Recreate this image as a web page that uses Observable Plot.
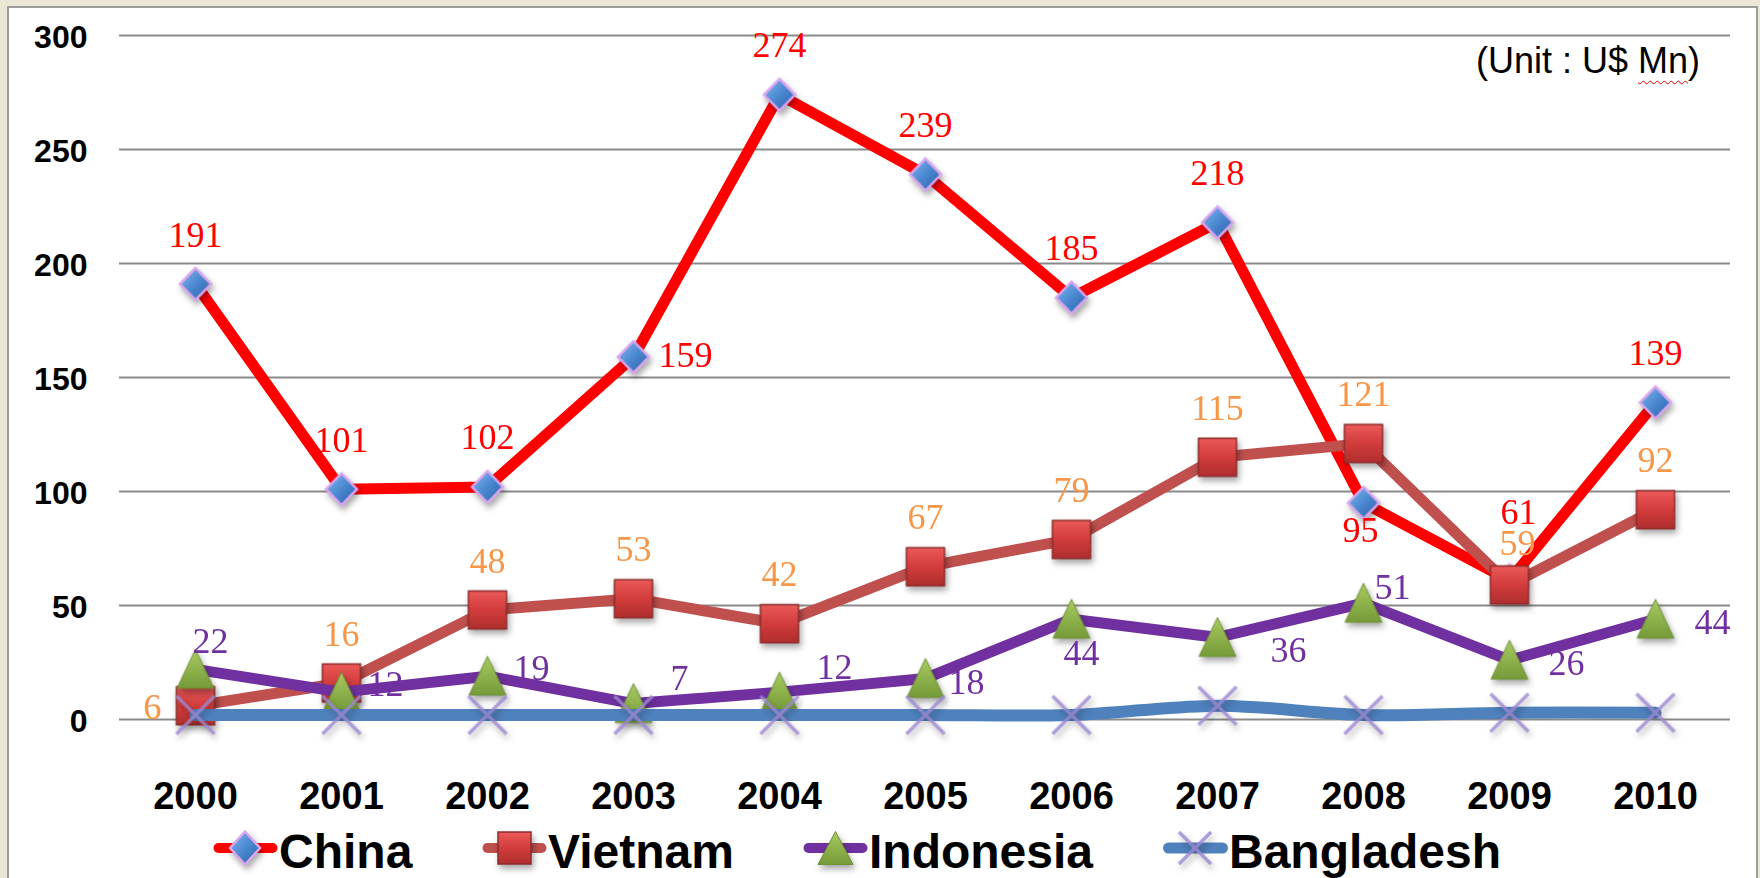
<!DOCTYPE html>
<html><head><meta charset="utf-8">
<script src="https://cdn.jsdelivr.net/npm/d3@7"></script>
<script src="https://cdn.jsdelivr.net/npm/@observablehq/plot@0.6"></script>
<style>
html,body{margin:0;padding:0;}
body{width:1760px;height:878px;position:relative;overflow:hidden;background:#ebe7d7;font-family:"Liberation Sans",Arial,sans-serif;}
#panel{position:absolute;left:7px;top:6px;width:1751px;height:900px;background:#fff;border:2px solid #9c9c9c;box-sizing:border-box;}
#chart{position:absolute;left:0;top:0;}
#legend{position:absolute;left:0;top:820px;width:1760px;height:58px;}
.item{position:absolute;top:0;height:58px;}
.item svg{position:absolute;left:0;top:3px;overflow:visible;}
.item span{position:absolute;top:8px;font:bold 48px/48px "Liberation Sans",Arial,sans-serif;white-space:nowrap;color:#000;}
#unit{position:absolute;right:60px;top:43px;font:36px/36px "Liberation Sans",Arial,sans-serif;color:#000;white-space:nowrap;}
#unit .sp{text-decoration:underline wavy #e00000;text-decoration-thickness:1px;text-underline-offset:7px;}
#chart g[aria-description="markers"], .item .mk{filter:drop-shadow(2px 4px 3px rgba(0,0,0,0.35));}
</style></head>
<body>
<svg width="0" height="0" style="position:absolute">
<defs>
 <linearGradient id="gDiamond" x1="0" y1="0" x2="1" y2="1">
  <stop offset="0" stop-color="#86baf0"/><stop offset="0.5" stop-color="#4a88d0"/><stop offset="1" stop-color="#2a5ea6"/>
 </linearGradient>
 <linearGradient id="gSquare" x1="0" y1="0" x2="0" y2="1">
  <stop offset="0" stop-color="#ec5a5a"/><stop offset="0.5" stop-color="#d23c3c"/><stop offset="1" stop-color="#b02e2e"/>
 </linearGradient>
 <linearGradient id="gTri" x1="0" y1="0" x2="0" y2="1">
  <stop offset="0" stop-color="#a9cb62"/><stop offset="1" stop-color="#759a38"/>
 </linearGradient>
</defs></svg>
<div id="panel"></div>
<div id="chart"></div>
<div id="unit">(Unit : U$ <span class="sp">Mn</span>)</div>
<div id="legend"></div>
<script>
// ---- data ----
const years = ["2000","2001","2002","2003","2004","2005","2006","2007","2008","2009","2010"];
const china = [191,101,102,159,274,239,185,218,95,61,139];
const vietnam = [6,16,48,53,42,67,79,115,121,59,92];
const indonesia = [22,12,19,7,12,18,44,36,51,26,44];
const bangladesh = [2,2,2,2,2,2,2,6,2,3,3];
const yTicks = [0,50,100,150,200,250,300];
const seriesNames = ["China","Vietnam","Indonesia","Bangladesh"];

// label placement keywords (per point)
const chinaLabelAt = ["above","above","above","right","above","above","above","above","below","high","above"];
const vietnamLabelAt = ["left","above","above","above","above","above","above","above","above","low","above"];
const indonesiaLabelAt = ["upLeft","rightUp","rightUp","upRight","upRight","rightDown","belowRight","farRightDown","nearUp","farRight","farRight"];

const placements = {
  above:{textAnchor:"middle",dx:0,dy:-49},
  high:{textAnchor:"middle",dx:9,dy:-68},
  low:{textAnchor:"middle",dx:8,dy:-42},
  below:{textAnchor:"middle",dx:-3,dy:28},
  belowRight:{textAnchor:"middle",dx:10,dy:34},
  right:{textAnchor:"start",dx:25,dy:-2},
  rightUp:{textAnchor:"start",dx:26,dy:-8},
  rightDown:{textAnchor:"start",dx:23,dy:4},
  upRight:{textAnchor:"start",dx:37,dy:-25},
  farRight:{textAnchor:"start",dx:39,dy:3},
  farRightDown:{textAnchor:"start",dx:53,dy:13},
  nearUp:{textAnchor:"start",dx:11,dy:-16},
  upLeft:{textAnchor:"start",dx:-3,dy:-28},
  left:{textAnchor:"end",dx:-34,dy:2}
};

// ---- marker symbols ----
const symDiamond = {draw(c,s){const r=Math.sqrt(s/Math.PI);c.moveTo(0,-r*1.03);c.lineTo(r,0);c.lineTo(0,r*1.03);c.lineTo(-r,0);c.closePath();}};
const symSquare = {draw(c,s){const r=Math.sqrt(s/Math.PI);c.moveTo(-r,-r);c.lineTo(r,-r);c.lineTo(r,r);c.lineTo(-r,r);c.closePath();}};
const symTri = {draw(c,s){const r=Math.sqrt(s/Math.PI);c.moveTo(0,-1.05*r);c.lineTo(0.97*r,1.0*r);c.lineTo(-0.97*r,1.0*r);c.closePath();}};
const symX = {draw(c,s){const r=Math.sqrt(s/Math.PI);c.moveTo(-r,-r);c.lineTo(r,r);c.moveTo(-r,r);c.lineTo(r,-r);}};

const rows = vals => years.map((year,i)=>({year,value:vals[i]}));

const series = [
  {name:"China", rows:rows(china), line:"#ff0000", width:11, labelColor:"#ff0000", labelAt:chinaLabelAt,
   dot:{symbol:symDiamond, r:15.5, fill:"url(#gDiamond)", stroke:"#d9a6ef", strokeWidth:2.5}},
  {name:"Vietnam", rows:rows(vietnam), line:"#c0504d", width:11, labelColor:"#f79646", labelAt:vietnamLabelAt,
   dot:{symbol:symSquare, r:19, fill:"url(#gSquare)", stroke:"#8e2c2c", strokeWidth:1.5}},
  {name:"Indonesia", rows:rows(indonesia), line:"#7030a0", width:11, labelColor:"#7030a0", labelAt:indonesiaLabelAt,
   dot:{symbol:symTri, r:19, fill:"url(#gTri)", stroke:"#6e9134", strokeWidth:1}},
  {name:"Bangladesh", rows:rows(bangladesh), line:"#4f81bd", width:12, labelColor:null, labelAt:null, curve:"catmull-rom",
   dot:{symbol:symX, r:19, fill:"none", stroke:"#9d88d2", strokeWidth:3.5, strokeOpacity:0.8}}
];

const marks = [Plot.ruleY(yTicks,{stroke:"#8a8a8a",strokeWidth:2})];
for (const s of series) {
  marks.push(Plot.line(s.rows,{x:"year",y:"value",stroke:s.line,strokeWidth:s.width,strokeLinecap:"round",strokeLinejoin:"round",curve:s.curve||"linear"}));
  marks.push(Plot.dot(s.rows,{x:"year",y:"value",...s.dot,ariaDescription:"markers"}));
}
for (const s of series) {
  if (!s.labelAt) continue;
  for (const key of new Set(s.labelAt)) {
    marks.push(Plot.text(s.rows.filter((d,i)=>s.labelAt[i]===key),{
      x:"year",y:"value",text:d=>String(d.value),fill:s.labelColor,
      fontSize:36,fontFamily:"'Liberation Serif','Times New Roman',serif",...placements[key]}));
  }
}
marks.push(Plot.axisY({ticks:yTicks,tickSize:0,tickPadding:32,fontSize:32,fontWeight:"bold",label:null,dy:2}));
marks.push(Plot.axisX({tickSize:0,tickPadding:63,fontSize:38,fontWeight:"bold",label:null}));

const chart = Plot.plot({
  width:1760,height:820,
  marginLeft:119,marginRight:30,marginTop:35,marginBottom:101,
  x:{type:"point",domain:years,padding:0.5},
  y:{domain:[0,300]},
  style:{background:"transparent",color:"#000",fontFamily:"'Liberation Sans',Arial,sans-serif",overflow:"visible"},
  marks
});
document.getElementById("chart").appendChild(chart);

// ---- legend ----
const legendLeft = [213,482,803,1163];
const swatchMarker = {
  China:'<path class="mk" d="M32,8.5 L47,25 L32,41.5 L17,25 Z" fill="url(#gDiamond)" stroke="#d9a6ef" stroke-width="2.5"/>',
  Vietnam:'<path class="mk" d="M16,9 L49,9 L49,41 L16,41 Z" fill="url(#gSquare)" stroke="#8e2c2c" stroke-width="1.5"/>',
  Indonesia:'<path class="mk" d="M32.5,8.5 L50,41.5 L15,41.5 Z" fill="url(#gTri)" stroke="#6e9134" stroke-width="1"/>',
  Bangladesh:'<path class="mk" d="M16,9 L48,41 M16,41 L48,9" fill="none" stroke="#9d88d2" stroke-width="3.5" stroke-opacity="0.8"/>'
};
const legend = document.getElementById("legend");
seriesNames.forEach((name,i)=>{
  const s = series[i];
  const item = document.createElement("div");
  item.className = "item";
  item.style.left = legendLeft[i]+"px";
  item.innerHTML = `<svg width="66" height="50"><line x1="5.5" y1="25" x2="59.5" y2="25" stroke="${s.line}" stroke-width="${s.width-1}" stroke-linecap="round"/>${swatchMarker[name]}</svg><span style="left:66px">${name}</span>`;
  legend.appendChild(item);
});
</script>
</body></html>
